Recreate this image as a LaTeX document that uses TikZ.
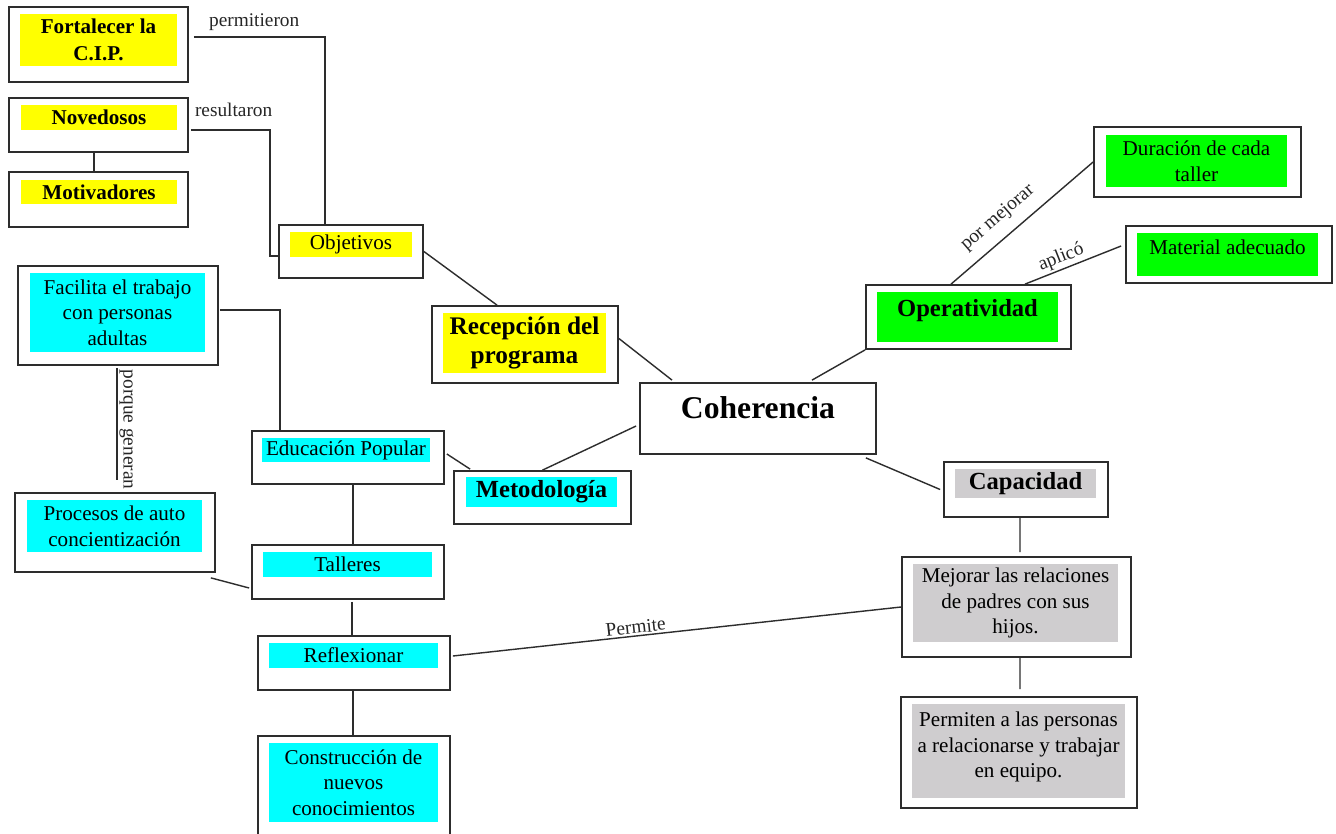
\documentclass[tikz,border=0pt]{standalone}
\usepackage{fontspec}
\setmainfont{Liberation Serif}
\usepackage{tikz}
\usetikzlibrary{positioning}

\definecolor{grisclaro}{RGB}{207,205,207}
\definecolor{borde}{RGB}{45,45,45}
\definecolor{amar}{RGB}{255,255,0}
\definecolor{verd}{RGB}{0,255,0}
\definecolor{cel}{RGB}{0,255,255}

\tikzset{
  caja/.style={draw=borde, line width=1pt, inner sep=0pt},
  fondo/.style={inner sep=0pt, align=center, font=\fontsize{12}{14.6}\selectfont},
  amarillo/.style={fondo, fill=amar},
  verde/.style={fondo, fill=verd},
  celeste/.style={fondo, fill=cel},
  gris/.style={fondo, fill=grisclaro},
  enlace/.style={draw=borde, line width=0.8pt},
  etiqueta/.style={font=\fontsize{11}{13}\selectfont, inner sep=1pt, text=black!85}
}

\begin{document}
\begin{tikzpicture}[x=0.2mm,y=-0.2mm]
  \useasboundingbox (0,0) rectangle (1336,834);
  \fill[white] (0,0) rectangle (1336,834);

   \draw (98.5,44.5) node[caja, minimum width=35.8mm, minimum height=15mm] (fort) {};
   \draw (98.5,40) node[amarillo, minimum width=31.4mm, minimum height=10.4mm, font=\bfseries\fontsize{12}{15.4}\selectfont] (fort-t) {Fortalecer la\\C.I.P.};
   \draw (98.5,125) node[caja, minimum width=35.8mm, minimum height=10.8mm] (nov) {};
   \draw (99,117.5) node[amarillo, minimum width=31.2mm, minimum height=5mm, font=\bfseries\fontsize{12}{14.6}\selectfont] (nov-t) {Novedosos};
   \draw (98.5,199.5) node[caja, minimum width=35.8mm, minimum height=11mm] (mot) {};
   \draw (99,192) node[amarillo, minimum width=31.2mm, minimum height=4.8mm, font=\bfseries\fontsize{12}{14.6}\selectfont] (mot-t) {Motivadores};
   \draw (351,251.5) node[caja, minimum width=28.8mm, minimum height=10.6mm] (obj) {};
   \draw (351,244.5) node[amarillo, minimum width=24.4mm, minimum height=5mm] (obj-t) {Objetivos};
   \draw (525,344.5) node[caja, minimum width=37.2mm, minimum height=15.4mm] (rec) {};
   \draw (524.5,343) node[amarillo, minimum width=32.6mm, minimum height=12mm, font=\bfseries\fontsize{14.4}{17}\selectfont] (rec-t) {Recepción del\\programa};

   \draw (758,418.5) node[caja, minimum width=47.2mm, minimum height=14.2mm] (coh) {};
   \draw (758,408) node[font=\bfseries\fontsize{18}{21}\selectfont, inner sep=0pt] (coh-t) {Coherencia};

   \draw (968.5,317) node[caja, minimum width=41mm, minimum height=12.8mm] (ope) {};
   \draw (967.5,317) node[verde, minimum width=36.2mm, inner ysep=1.5mm, text depth=3.6mm, font=\bfseries\fontsize{14}{16}\selectfont] (ope-t) {Operatividad};
   \draw (1197.5,162) node[caja, minimum width=41.4mm, minimum height=14mm] (dur) {};
   \draw (1196.5,161) node[verde, minimum width=36.2mm, minimum height=10.4mm] (dur-t) {Duración de cada\\taller};
   \draw (1229,254.5) node[caja, minimum width=41.2mm, minimum height=11.4mm] (mat) {};
   \draw (1227.5,254.5) node[verde, minimum width=36.2mm, inner ysep=1.35mm, text depth=3mm] (mat-t) {Material adecuado};

   \draw (1026,489.5) node[caja, minimum width=32.8mm, minimum height=11mm] (cap) {};
   \draw (1025.5,483.5) node[gris, minimum width=28.2mm, minimum height=5.8mm, font=\bfseries\fontsize{14}{16}\selectfont] (cap-t) {Capacidad};
   \draw (1016.5,607) node[caja, minimum width=45.8mm, minimum height=20mm] (mej) {};
   \draw (1015.5,603) node[gris, minimum width=41mm, minimum height=15.6mm] (mej-t) {Mejorar las relaciones\\de padres con sus\\hijos.};
   \draw (1019,752.5) node[caja, minimum width=47.2mm, minimum height=22.2mm] (perm) {};
   \draw (1018.5,751) node[gris, minimum width=42.6mm, inner ysep=1.6mm, text depth=2.4mm] (perm-t) {Permiten a las personas\\a relacionarse y trabajar\\en equipo.};

   \draw (542.5,497.5) node[caja, minimum width=35.4mm, minimum height=10.6mm] (met) {};
   \draw (541.5,492) node[celeste, minimum width=30.2mm, minimum height=6mm, font=\bfseries\fontsize{14}{16}\selectfont] (met-t) {Metodología};
   \draw (348,457.5) node[caja, minimum width=38.4mm, minimum height=10.6mm] (edu) {};
   \draw (346,450) node[celeste, minimum width=33.6mm, minimum height=4.8mm] (edu-t) {Educación Popular};
   \draw (118,315.5) node[caja, minimum width=40mm, minimum height=19.8mm] (fac) {};
   \draw (117.5,312.5) node[celeste, minimum width=35mm, minimum height=15.8mm] (fac-t) {Facilita el trabajo\\con personas\\adultas};
   \draw (115,532.5) node[caja, minimum width=40mm, minimum height=15.8mm] (pro) {};
   \draw (114.5,526) node[celeste, minimum width=35mm, minimum height=10.4mm] (pro-t) {Procesos de auto\\concientización};
   \draw (348,572) node[caja, minimum width=38.4mm, minimum height=10.8mm] (tal) {};
   \draw (347.5,564.5) node[celeste, minimum width=33.8mm, minimum height=5mm] (tal-t) {Talleres};
   \draw (354,663) node[caja, minimum width=38.4mm, minimum height=10.8mm] (ref) {};
   \draw (353.5,655.5) node[celeste, minimum width=33.8mm, minimum height=5mm] (ref-t) {Reflexionar};
   \draw (354,793) node[caja, minimum width=38.4mm, minimum height=22.8mm] (con) {};
   \draw (353.5,782.5) node[celeste, minimum width=33.8mm, minimum height=15.8mm] (con-t) {Construcción de\\nuevos\\conocimientos};

   \path[enlace] ([shift={(5,-7.5)}]fort.east) -| node[etiqueta, pos=0.23, above=2.5pt] {permitieron} ([shift={(-26,0)}]obj.north);
   \path[enlace] ([shift={(2,5)}]nov.east) -| node[etiqueta, pos=0.27, above=6pt] {resultaron} ([shift={(-8,4.5)}]obj.west) -- ([shift={(0,4.5)}]obj.west);
   \path[enlace] ([shift={(-4.5,0)}]nov.south) -- ([shift={(-4.5,0)}]mot.north);
   \path[enlace] (obj.east) -- ([shift={(-28,0)}]rec.north);
   \path[enlace] ([shift={(0,-6)}]rec.east) -- ([shift={(-86,-2)}]coh.north);
   \path[enlace] ([shift={(54,-2)}]coh.north) -- (ope.south west);
   \path[enlace] ([shift={(-17.5,0)}]ope.north) -- node[etiqueta, pos=0.42, above=5pt, sloped] {por mejorar} (dur.west);
   \path[enlace] ([shift={(56.5,0)}]ope.north) -- node[etiqueta, pos=0.42, above=0pt, sloped] {aplicó} ([shift={(-4,-8.5)}]mat.west);
   \path[enlace] ([shift={(-3,7.5)}]coh.west) -- (met.north);
   \path[enlace] ([shift={(2,-3.5)}]edu.east) -- ([shift={(17,-1)}]met.north west);
   \path[enlace] ([shift={(-11,3)}]coh.south east) -- ([shift={(-3,0)}]cap.west);
   \path[enlace] ([shift={(-6,0)}]cap.south) -- ([shift={(3.5,-4)}]mej.north);
   \path[enlace] ([shift={(3.5,0)}]mej.south) -- ([shift={(1,-7)}]perm.north);
   \path[enlace] ([shift={(2,-7)}]ref.east) -- node[etiqueta, pos=0.41, above=0pt, sloped] {Permite} (mej.west);
   \path[enlace] ([shift={(1,-5.5)}]fac.east) -| ([shift={(-68,0)}]edu.north);
   \path[enlace] ([shift={(-1,2)}]fac.south) -- node[etiqueta, pos=0.55, rotate=-90, above=0pt] {porque generan} ([shift={(2,-12)}]pro.north);
   \path[enlace] ([shift={(-5,5)}]pro.south east) -- ([shift={(-2,16)}]tal.west);
   \path[enlace] ([shift={(5,0)}]edu.south) -- ([shift={(5,0)}]tal.north);
   \path[enlace] ([shift={(4,2)}]tal.south) -- ([shift={(-2,0)}]ref.north);
   \path[enlace] ([shift={(-1,0)}]ref.south) -- ([shift={(-1,0)}]con.north);
\end{tikzpicture}
\end{document}
